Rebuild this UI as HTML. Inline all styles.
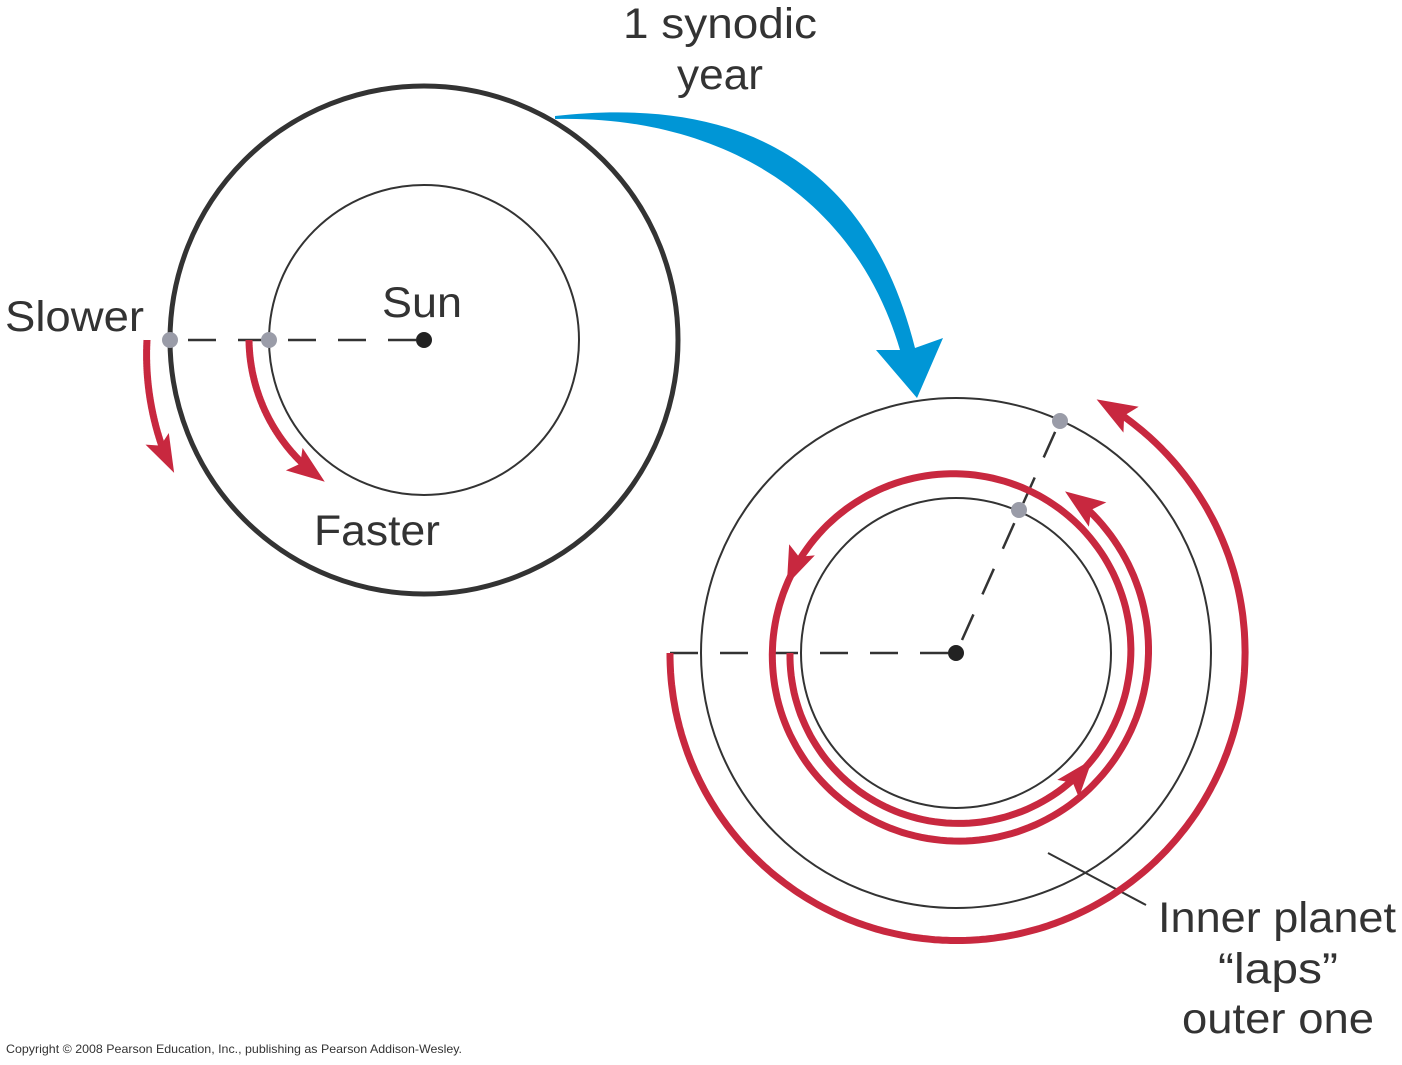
<!DOCTYPE html>
<html><head><meta charset="utf-8"><style>
html,body{margin:0;padding:0;background:#fff;}
svg{display:block;}
text{font-family:"Liberation Sans",Arial,sans-serif;fill:#333;}
</style></head><body>
<svg id="s" width="1402" height="1065" viewBox="0 0 1402 1065" xmlns="http://www.w3.org/2000/svg">
<circle cx="424" cy="340" r="254" fill="none" stroke="#333" stroke-width="5"/>
<circle cx="424" cy="340" r="155" fill="none" stroke="#333" stroke-width="2"/>
<line x1="170" y1="340" x2="424" y2="340" stroke="#333" stroke-width="2.5" stroke-dasharray="28,22" stroke-dashoffset="-18"/>
<circle cx="424" cy="340" r="8" fill="#222"/>
<circle cx="170" cy="340" r="8" fill="#9a9ca8"/>
<circle cx="269" cy="340" r="8" fill="#9a9ca8"/>
<text x="5" y="331" font-size="43" textLength="139" lengthAdjust="spacingAndGlyphs">Slower</text>
<text x="382" y="317" font-size="43" textLength="80" lengthAdjust="spacingAndGlyphs">Sun</text>
<text x="314" y="545" font-size="43" textLength="126" lengthAdjust="spacingAndGlyphs">Faster</text>
<circle cx="956" cy="653" r="255" fill="none" stroke="#333" stroke-width="2"/>
<circle cx="956" cy="653" r="155" fill="none" stroke="#333" stroke-width="2"/>
<line x1="670" y1="653" x2="956" y2="653" stroke="#333" stroke-width="2.5" stroke-dasharray="28,22"/>
<line x1="962" y1="640" x2="1060" y2="421" stroke="#333" stroke-width="2.5" stroke-dasharray="28,22"/>
<circle cx="956" cy="653" r="8" fill="#222"/>
<circle cx="1060" cy="421" r="8" fill="#9a9ca8"/>
<circle cx="1019" cy="510" r="8" fill="#9a9ca8"/>
<line x1="1048" y1="853" x2="1146" y2="905" stroke="#333" stroke-width="2"/>
<g id="red" fill="none" stroke="#c8283f" stroke-width="7"></g>
<path d="M555,116 C700,100 860,130 915,348 L943,338 L917,398 L876,350 L900,350 C850,180 700,115 555,119 Z" fill="#0096d6"/>
<text x="720" y="38" font-size="43" text-anchor="middle" textLength="194" lengthAdjust="spacingAndGlyphs">1 synodic</text>
<text x="720" y="89" font-size="43" text-anchor="middle" textLength="86" lengthAdjust="spacingAndGlyphs">year</text>
<text x="1158" y="932" font-size="43" textLength="238" lengthAdjust="spacingAndGlyphs">Inner planet</text>
<text x="1278" y="983" font-size="43" text-anchor="middle" textLength="120" lengthAdjust="spacingAndGlyphs">“laps”</text>
<text x="1278" y="1033" font-size="43" text-anchor="middle" textLength="192" lengthAdjust="spacingAndGlyphs">outer one</text>
<text x="6" y="1053" font-size="12" textLength="456" lengthAdjust="spacingAndGlyphs">Copyright © 2008 Pearson Education, Inc., publishing as Pearson Addison-Wesley.</text>
</svg>
<script>
var g=document.getElementById('red'),NS="http://www.w3.org/2000/svg";
function pt(cx,cy,r,t){var a=t*Math.PI/180;return [cx+r*Math.cos(a),cy-r*Math.sin(a)];}
function path(cx,cy,r0,r1,t0,t1){var d="",n=300;for(var i=0;i<=n;i++){var t=t0+(t1-t0)*i/n,r=r0+(r1-r0)*i/n,p=pt(cx,cy,r,t);d+=(i?"L":"M")+p[0].toFixed(1)+","+p[1].toFixed(1);}var e=document.createElementNS(NS,"path");e.setAttribute("d",d);g.appendChild(e);}
function head(cx,cy,r,t,dir,len,w){var p=pt(cx,cy,r,t),q=pt(cx,cy,r,t-dir*3);var dx=p[0]-q[0],dy=p[1]-q[1],l=Math.hypot(dx,dy);dx/=l;dy/=l;var bx=p[0]-dx*len,by=p[1]-dy*len;var e=document.createElementNS(NS,"polygon");e.setAttribute("points",[p[0],p[1],bx-dy*w,by+dx*w,bx+dx*len*0.2,by+dy*len*0.2,bx+dy*w,by-dx*w].join(","));e.setAttribute("fill","#c8283f");e.setAttribute("stroke","none");g.appendChild(e);}
path(424,340,277,283,180,203);head(424,340,283,208,1,38,13);
path(424,340,175,173,180,229);head(424,340,173,235,1,38,14);
path(956,653,286,290,180,416);head(956,653,290,421,1,40,15);
var r0=166,r1=195,t0=180,t1=776;
path(956,653,r0,r1,t0,t1-5);
function rs(t){return r0+(r1-r0)*(t-t0)/(t1-t0);}
head(956,653,rs(t1),t1,1,40,15);
head(956,653,rs(322),322,1,38,14);
head(956,653,rs(518),518,1,38,14);
</script>
</body></html>
